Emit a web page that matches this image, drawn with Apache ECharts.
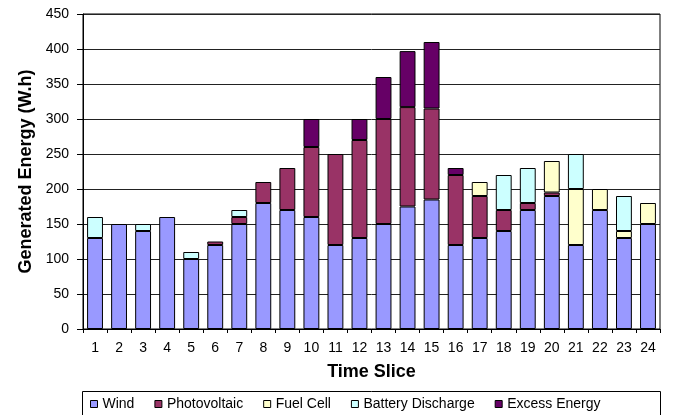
<!DOCTYPE html>
<html>
<head>
<meta charset="utf-8">
<script src="https://cdn.jsdelivr.net/npm/echarts@6/dist/echarts.min.js"></script>
<style>
html,body{margin:0;padding:0;background:#fff;}
#chart{width:684px;height:415px;}
</style>
</head>
<body>
<div id="chart"></div>
<script>
var categories = ['1','2','3','4','5','6','7','8','9','10','11','12','13','14','15','16','17','18','19','20','21','22','23','24'];
var wind        = [130,150,140,160,100,120,150,180,170,160,120,130,150,175,185,120,130,140,170,190,120,170,130,150];
var photovoltaic= [0,0,0,0,0,5,10,30,60,100,130,140,150,142,130,100,60,30,10,5,0,0,0,0];
var fuelCell    = [0,0,0,0,0,0,0,0,0,0,0,0,0,0,0,0,20,0,0,45,80,30,10,30];
var battery     = [30,0,10,0,10,0,10,0,0,0,0,0,0,0,0,0,0,50,50,0,50,0,50,0];
var excess      = [0,0,0,0,0,0,0,0,0,40,0,30,60,80,95,10,0,0,0,0,0,0,0,0];
var seriesNames = ['Wind','Photovoltaic','Fuel Cell','Battery Discharge','Excess Energy'];
var yTicks = {min:0, max:450, interval:50};

var FONT = '"Liberation Sans", Arial, sans-serif';
var colors = ['#9999FF','#993366','#FFFFCC','#CCFFFF','#660066'];
var values = [wind, photovoltaic, fuelCell, battery, excess];

var chart = echarts.init(document.getElementById('chart'), null, {renderer:'canvas'});
var series = seriesNames.map(function(n, i){
  return {
    name: n,
    type: 'bar',
    stack: 'total',
    barWidth: '66%',
    data: values[i].map(function(v){ return v === 0 ? '-' : v; }),
    itemStyle: {color: colors[i], borderColor: '#000', borderWidth: 1},
    emphasis: {disabled: true}
  };
});

chart.setOption({
  animation: false,
  textStyle: {fontFamily: FONT},
  grid: {left: 83, right: 24, top: 14, bottom: 86, show: true, borderColor: '#000', borderWidth: 1},
  graphic: [{
    type: 'rect', z: -1,
    shape: {x: 82.5, y: 391.5, width: 578, height: 40},
    style: {fill: '#fff', stroke: '#000', lineWidth: 1}
  }],
  legend: {
    left: 90, top: 397, padding: 0, itemGap: 20,
    icon: 'rect', itemWidth: 7, itemHeight: 7,
    itemStyle: {borderColor: '#000', borderWidth: 1},
    textStyle: {fontFamily: FONT, fontSize: 14, color: '#000'},
    data: seriesNames
  },
  xAxis: {
    type: 'category',
    data: categories,
    name: 'Time Slice',
    nameLocation: 'middle',
    nameGap: 34,
    nameTextStyle: {fontFamily: FONT, fontSize: 18, fontWeight: 'bold', color: '#000'},
    axisLine: {lineStyle: {color: '#000', width: 1}},
    axisTick: {show: true, length: 4, alignWithLabel: false, lineStyle: {color: '#000'}},
    axisLabel: {interval: 0, margin: 12, fontFamily: FONT, fontSize: 14, color: '#000'}
  },
  yAxis: {
    type: 'value',
    min: yTicks.min, max: yTicks.max, interval: yTicks.interval,
    name: 'Generated Energy (W.h)',
    nameLocation: 'middle',
    nameGap: 44,
    nameTextStyle: {fontFamily: FONT, fontSize: 18, fontWeight: 'bold', color: '#000'},
    axisLine: {show: true, lineStyle: {color: '#000', width: 1}},
    axisTick: {show: true, length: 6, lineStyle: {color: '#000'}},
    axisLabel: {margin: 14, fontFamily: FONT, fontSize: 14, color: '#000'},
    splitLine: {show: true, lineStyle: {color: '#222', width: 1}}
  },
  series: series
});
</script>
</body>
</html>
